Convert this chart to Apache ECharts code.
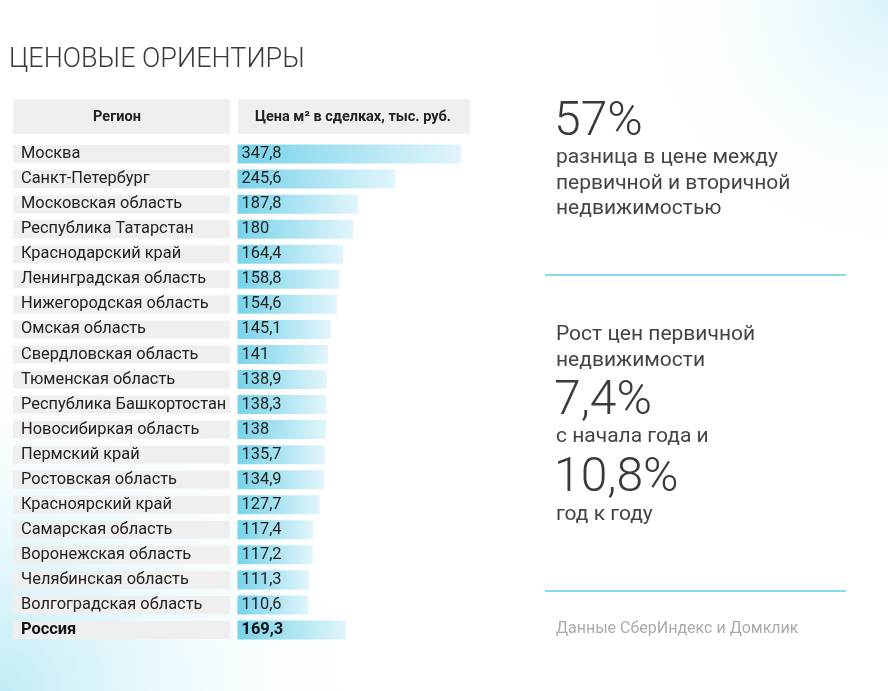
<!DOCTYPE html>
<html><head><meta charset="utf-8">
<script src="https://cdn.jsdelivr.net/npm/echarts@6/dist/echarts.min.js"></script>
<style>html,body{margin:0;padding:0;background:#fff}#c{width:888px;height:691px}</style>
</head><body><div id="c"></div>
<script>
const regions = ['Москва','Санкт-Петербург','Московская область','Республика Татарстан','Краснодарский край','Ленинградская область','Нижегородская область','Омская область','Свердловская область','Тюменская область','Республика Башкортостан','Новосибиркая область','Пермский край','Ростовская область','Красноярский край','Самарская область','Воронежская область','Челябинская область','Волгоградская область','Россия'];
const prices = [347.8,245.6,187.8,180,164.4,158.8,154.6,145.1,141,138.9,138.3,138,135.7,134.9,127.7,117.4,117.2,111.3,110.6,169.3];
const headers = ['Регион','Цена м² в сделках, тыс. руб.'];
const title = 'ЦЕНОВЫЕ ОРИЕНТИРЫ';
const stat1Value = '57%';
const stat1Text = ['разница в цене между','первичной и вторичной','недвижимостью'];
const stat2Intro = ['Рост цен первичной','недвижимости'];
const stat2Value = '7,4%';
const stat2Mid = 'с начала года и';
const stat3Value = '10,8%';
const stat3Text = 'год к году';
const sourceText = 'Данные СберИндекс и Домклик';
const totalName = 'Россия';

const chart = echarts.init(document.getElementById('c'));
const FONT = 'Roboto, "Noto Sans", sans-serif';
const barGrad = new echarts.graphic.LinearGradient(0,0,1,0,[{offset:0,color:'#76d3ea'},{offset:1,color:'#e2f5fb'}]);

const textEl = (x,y,t,size,color,weight,family) => ({type:'text',x:x,y:y,silent:true,style:{text:t,fontSize:size,fill:color,fontWeight:weight||'normal',fontFamily:family||FONT,textVerticalAlign:'middle'}});

const graphics = [
  {type:'rect',shape:{x:0,y:0,width:888,height:691},silent:true,z:-10,style:{fill:new echarts.graphic.RadialGradient(0,1,0.55,[{offset:0,color:'rgba(140,220,238,0.55)'},{offset:0.5,color:'rgba(190,236,246,0.25)'},{offset:1,color:'rgba(255,255,255,0)'}])}},
  {type:'rect',shape:{x:0,y:0,width:888,height:691},silent:true,z:-10,style:{fill:new echarts.graphic.RadialGradient(1,0,0.4,[{offset:0,color:'rgba(170,230,244,0.45)'},{offset:1,color:'rgba(255,255,255,0)'}])}},
  textEl(9,60,title,27,'#3a3a3a','300'),
  {type:'rect',shape:{x:13,y:99,width:217,height:35},silent:true,style:{fill:'#efefef'}},
  {type:'rect',shape:{x:238,y:99,width:232,height:35},silent:true,style:{fill:'#efefef'}},
  {type:'text',x:117,y:117,silent:true,style:{text:headers[0],fontSize:14.5,fontWeight:'bold',fill:'#222',fontFamily:FONT,textAlign:'center',textVerticalAlign:'middle'}},
  {type:'text',x:353,y:117,silent:true,style:{text:headers[1],fontSize:14.5,fontWeight:'bold',fill:'#222',fontFamily:FONT,textAlign:'center',textVerticalAlign:'middle'}},
  textEl(554,122.5,stat1Value,48,'#3a3a3a','300'),
  textEl(556,158,stat1Text[0],21,'#444'),
  textEl(556,184,stat1Text[1],21,'#444'),
  textEl(556,209,stat1Text[2],21,'#444'),
  {type:'line',shape:{x1:545,y1:275,x2:846,y2:275},silent:true,style:{stroke:'#86dbee',lineWidth:2}},
  textEl(556,335,stat2Intro[0],21,'#444'),
  textEl(556,361,stat2Intro[1],21,'#444'),
  textEl(554,401.5,stat2Value,48,'#3a3a3a','300'),
  textEl(556,437,stat2Mid,21,'#444'),
  textEl(554,478.5,stat3Value,48,'#3a3a3a','300'),
  textEl(556,515,stat3Text,21,'#444'),
  {type:'line',shape:{x1:545,y1:591,x2:846,y2:591},silent:true,style:{stroke:'#86dbee',lineWidth:2}},
  textEl(556,629,sourceText,16,'#aaaaaa')
];

chart.setOption({
  animation:false,
  backgroundColor:'#ffffff',
  grid:{left:237.5,top:141.5,width:223.5,height:501,containLabel:false},
  xAxis:{type:'value',min:0,max:prices[0],show:false},
  yAxis:{type:'category',inverse:true,data:regions,
    axisLine:{show:false},axisTick:{show:false},splitLine:{show:false},
    axisLabel:{margin:224.5,align:'left',
      formatter:(v)=> v===totalName ? '{b|'+v+'}' : '{n|'+v+'}',
      rich:{
        n:{width:209,height:18,padding:[0,0,0,8],backgroundColor:'#efefef',fontSize:16.4,color:'#222',fontFamily:FONT,lineHeight:18},
        b:{width:209,height:18,padding:[0,0,0,8],backgroundColor:'#efefef',fontSize:16.4,fontWeight:'bold',color:'#111',fontFamily:FONT,lineHeight:18}
      }}},
  series:[{type:'bar',barWidth:19,
    data:prices.map((v,i)=>({value:v,label: regions[i]===totalName?{fontWeight:'bold',color:'#111'}:undefined})),
    itemStyle:{color:barGrad},
    label:{show:true,position:'insideLeft',distance:4,fontSize:16.4,color:'#222',fontFamily:FONT,
      formatter:(p)=>String(p.value).replace('.',',')}
  }],
  graphic:graphics
});
</script></body></html>
